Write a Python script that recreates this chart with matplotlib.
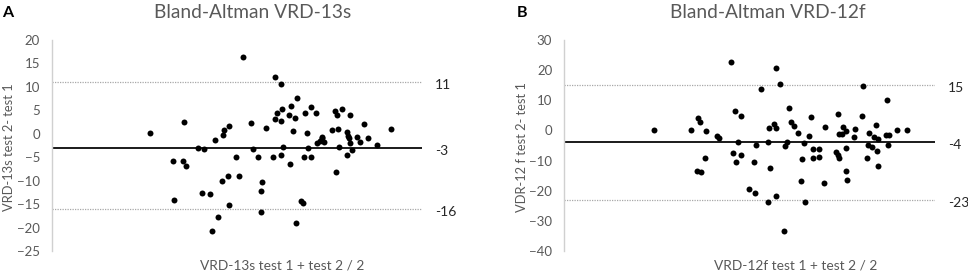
import matplotlib
matplotlib.use("Agg")
import matplotlib.pyplot as plt

# ---------------- data (x in arbitrary mean units, y = difference) ----------
a_x = [98.3, 132.3, 191.3, 163.3, 171.6, 172.6, 177.3, 199.3, 214.3, 223.3,
       229.3, 223.3, 229.3, 225.6, 230.6, 239.6, 237.3, 243.3, 245.6, 241.0,
       253.6, 259.3, 264.0, 255.0, 270.6, 280.0, 286.0, 283.3, 285.0, 290.3,
       298.6, 295.0, 296.0, 305.6, 312.6, 316.0, 339.0,
       121.0, 122.0, 131.0, 134.0, 146.6, 152.3, 150.6, 158.0, 160.0, 166.0,
       170.3, 176.3, 177.3, 184.3, 187.3, 201.6, 206.3, 209.0, 210.0, 209.6,
       221.6, 229.3, 231.6, 238.3, 244.0, 249.0, 251.3, 252.3, 256.0, 259.3,
       265.0, 268.3, 270.6, 271.8, 284.6, 287.0, 295.0, 297.3, 298.3, 300.6,
       308.3, 325.0]
a_y = [0.1, 2.5, 16.3, -1.3, -0.3, 0.8, 1.7, 2.2, 1.3, 12.1,
       10.6, 3.1, 2.8, 4.5, 5.2, 6.0, 4.0, 3.3, 7.7, 0.6,
       4.5, 5.7, 4.5, 0.1, -0.7, 0.8, 1.0, 4.9, 4.0, 5.3,
       4.0, 0.4, -0.4, -0.6, 2.0, -0.8, 1.0,
       -5.8, -14.1, -5.9, -6.8, -3.1, -3.3, -12.6, -12.9, -20.7, -17.7,
       -10.0, -9.0, -15.2, -4.9, -9.0, -3.3, -4.9, -12.2, -10.2, -16.6,
       -5.0, -4.5, -2.9, -6.5, -19.1, -14.3, -14.8, -5.0, -3.1, -5.0,
       -1.9, -1.5, -1.0, -1.7, -8.2, -2.8, -4.5, -1.0, -2.0, -3.5,
       -1.7, -2.4]
a_mean, a_upper, a_lower = -3, 11, -16

b_x = [90.3, 127.0, 134.3, 135.5, 142.0, 152.7, 155.0, 133.3, 136.7, 141.0,
       166.7, 171.0, 177.0, 168.5, 172.2, 177.0, 173.7, 185.0, 190.7, 192.0,
       189.5, 197.3, 203.5, 203.7, 205.5, 205.3, 210.0, 212.0, 211.7, 212.3,
       216.0, 219.7, 222.7, 221.0, 225.2, 227.2, 230.0, 234.3, 236.5, 237.8,
       240.2, 241.3, 244.5, 247.2, 248.5, 255.3, 248.5, 255.3, 259.7, 261.0,
       272.0, 273.7, 275.0, 274.0, 275.3, 277.5, 279.3, 281.5, 282.0, 281.7,
       282.7, 290.0, 290.8, 298.0, 298.7, 302.5, 303.7, 305.0, 308.3, 309.5,
       312.0, 313.0, 313.7, 314.0, 321.7, 325.3, 323.3, 324.3, 332.7, 342.7]
b_y = [0.0, 0.1, 4.0, 2.7, -0.2, -1.8, -2.6, -13.3, -13.7, -9.1,
       22.7, 6.6, 4.8, -7.4, -10.6, -8.2, -3.8, -19.3, -20.6, -4.9,
       -10.6, 13.8, -3.8, -23.7, -12.6, 0.9, 2.0, 0.9, -21.8, 20.7,
       15.3, -33.3, -3.8, -5.1, 7.4, 2.7, 1.5, -0.7, -16.8, -9.5,
       -4.1, -23.7, -1.8, 4.3, -6.1, -6.1, -9.1, -8.8, -17.4, 1.3,
       -7.2, -8.1, -9.0, 5.4, -1.1, -1.1, 1.0, -0.1, -5.8, -13.6,
       -16.4, -2.1, 0.4, 4.7, 14.7, -9.1, -4.7, -0.8, -5.5, -2.1,
       1.7, -6.8, -2.9, -11.8, -1.4, -1.4, 10.2, -4.8, 0.0, 0.0]
b_mean, b_upper, b_lower = -4, 15, -23

a_yticks = [20, 15, 10, 5, 0, -5, -10, -15, -20, -25]
b_yticks = [30, 20, 10, 0, -10, -20, -30, -40]

# ---------------- styling ----------------
plt.rcParams['font.family'] = ['Lato', 'DejaVu Sans']
GREY = '#595959'

fig = plt.figure(figsize=(9.68, 2.74), dpi=100)
W, H = 968, 274


def panel(left_px, right_px, xs, ys, mean, upper, lower, yticks,
          title, title_cx, letter, letter_x, ylabel, ylabel_x, xlabel, xlabel_cx):
    top_px, bot_px = 40, 251
    ax = fig.add_axes([left_px / W, (H - bot_px) / H,
                       (right_px - left_px) / W, (bot_px - top_px) / H])
    ax.set_xlim(0, right_px - left_px)
    ax.set_ylim(min(yticks), max(yticks))
    for s in ['top', 'right', 'bottom']:
        ax.spines[s].set_visible(False)
    ax.spines['left'].set_color('#d0d0d0')
    ax.spines['left'].set_linewidth(1.0)
    ax.set_xticks([])
    ax.set_yticks(yticks)
    ax.tick_params(axis='y', length=0, pad=8.5, labelsize=9.5, labelcolor=GREY)
    for v in (upper, lower):
        ax.axhline(v, color='#a8a8a8', lw=0.9, ls=(0, (1, 1)))
    ax.axhline(mean, color='#1a1a1a', lw=1.4)
    ax.plot(xs, ys, 'o', color='black', ms=4.3, mec='black', mew=0)
    for v, lab in ((upper, f'{upper}'), (mean, f'{mean}'), (lower, f'{lower}')):
        ax.annotate(lab, xy=(1, v), xycoords=('axes fraction', 'data'),
                    xytext=(13, -3), textcoords='offset pixels',
                    ha='left', va='center', fontsize=10, color='#262626')
    fig.text(title_cx / W, 1 - 12 / H, title, ha='center', va='center',
             fontsize=13.8, color=GREY)
    fig.text(letter_x / W, 1 - 13 / H, letter, ha='left', va='center',
             fontsize=11.5, fontweight='bold', color='black')
    fig.text(ylabel_x / W, 1 - 147 / H, ylabel, ha='center', va='center',
             rotation=90, fontsize=9.3, color=GREY)
    fig.text(xlabel_cx / W, 1 - 265 / H, xlabel, ha='center', va='center',
             fontsize=9.9, color=GREY)
    return ax


panel(51.7, 421.7, a_x, a_y, a_mean, a_upper, a_lower, a_yticks,
      'Bland-Altman VRD-13s', 253, 'A', 2, 'VRD-13s test 2- test 1', 9,
      'VRD-13s test 1 + test 2 / 2', 282)
panel(564, 934.7, b_x, b_y, b_mean, b_upper, b_lower, b_yticks,
      'Bland-Altman VRD-12f', 768, 'B', 517, 'VDR-12 f test 2- test 1', 522,
      'VRD-12f test 1 + test 2 / 2', 796)

fig.savefig('out.png', dpi=100)
